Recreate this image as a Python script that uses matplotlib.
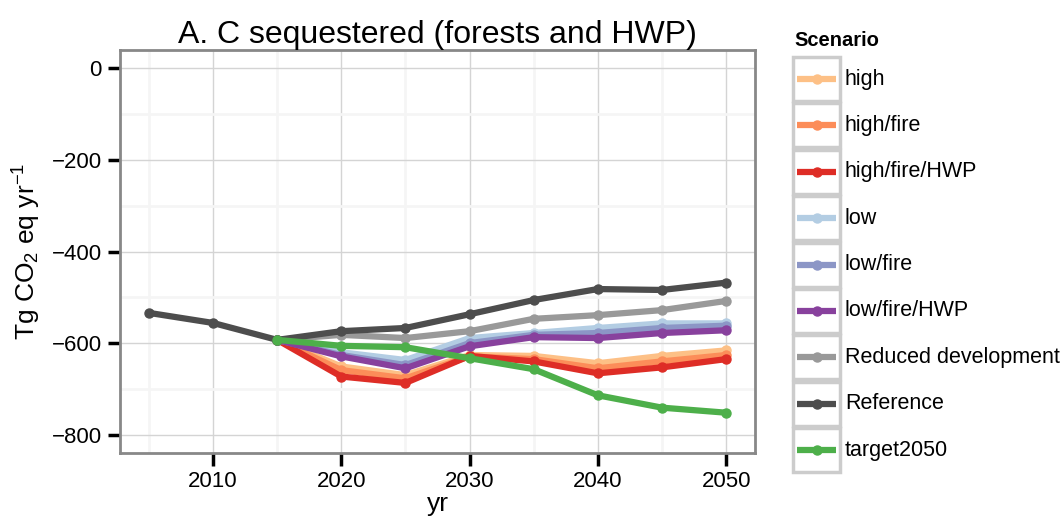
import matplotlib
matplotlib.use("Agg")
import matplotlib.pyplot as plt
from matplotlib.patches import Rectangle
from matplotlib.lines import Line2D
from matplotlib.ticker import MultipleLocator

plt.rcParams['font.family'] = ['Liberation Sans', 'DejaVu Sans']
plt.rcParams['mathtext.default'] = 'regular'

# data
years_ref = [2005, 2010, 2015, 2020, 2025, 2030, 2035, 2040, 2045, 2050]
years = [2015, 2020, 2025, 2030, 2035, 2040, 2045, 2050]

scenarios = ["high", "high/fire", "high/fire/HWP", "low", "low/fire", "low/fire/HWP",
             "Reduced development", "Reference", "target2050"]
colors = ["#FDC086", "#FC8D59", "#DE2D26", "#B3CDE3", "#8C96C6", "#88419D",
          "#999999", "#4D4D4D", "#4DAF4A"]

high = [-593, -651, -670, -626, -628, -644, -628, -616]
high_fire = [-593, -659, -677, -629, -635, -655, -640, -626]
high_fire_hwp = [-593, -673, -687, -628, -640, -666, -653, -635]
low = [-593, -620, -637, -589, -578, -567, -557, -557]
low_fire = [-593, -626, -648, -600, -582, -578, -567, -562]
low_fire_hwp = [-593, -629, -655, -607, -587, -589, -578, -572]
reduced_dev = [-593, -582, -589, -574, -547, -539, -528, -508]
reference = [-534, -556, -593, -574, -567, -537, -506, -482, -484, -468]
target2050 = [-593, -606, -609, -633, -657, -714, -741, -752]

series = [high, high_fire, high_fire_hwp, low, low_fire, low_fire_hwp,
          reduced_dev, reference, target2050]

fig = plt.figure(figsize=(10.6, 5.2), dpi=100)
ax = fig.add_axes([120/1060, 1-453/520, 635/1060, 403/520])

for name, col, vals in zip(scenarios, colors, series):
    xs = years_ref if name == "Reference" else years
    ax.plot(xs, vals, color=col, lw=4.5, marker='o', ms=6.5, solid_capstyle='butt',
            zorder=3)

ax.set_xlim(2002.75, 2052.25)
ax.set_ylim(-840, 40)
ax.xaxis.set_major_locator(MultipleLocator(10))
ax.xaxis.set_minor_locator(MultipleLocator(5))
ax.yaxis.set_major_locator(MultipleLocator(200))
ax.yaxis.set_minor_locator(MultipleLocator(100))
ax.set_xticks([2010, 2020, 2030, 2040, 2050])
ax.grid(which='major', color='#d4d4d4', lw=1.0, zorder=0)
ax.grid(which='minor', color='#f5f5f5', lw=2.0, zorder=0)
ax.tick_params(which='major', direction='out', length=9, width=2.5, color='black',
               labelsize=16, pad=4)
ax.tick_params(which='minor', length=0)
ax.set_yticklabels([f"\u2212{abs(int(v))}" if v < 0 else f"{int(v)}"
                    for v in ax.get_yticks()])
for s in ax.spines.values():
    s.set_color('#888888')
    s.set_linewidth(2)

ax.set_title("A. C sequestered (forests and HWP)", fontsize=23, pad=5)
ax.set_xlabel("yr", fontsize=19, labelpad=0)
ax.set_ylabel(r"Tg CO$_2$ eq yr$^{-1}$", fontsize=19, labelpad=6)

# ggplot-style legend drawn by hand
W, H = 1060, 520
fig.text(794/W, 1-40/H, "Scenario", fontsize=14.5, fontweight='bold', va='center')
for i, (name, col) in enumerate(zip(scenarios, colors)):
    top = 57 + i*46.4
    fig.patches.append(Rectangle((793/W, 1-(top+44)/H), 47/W, 44/H,
                                 transform=fig.transFigure, facecolor='white',
                                 edgecolor='#cccccc', lw=2.5))
    yc = 1-(top+22)/H
    fig.lines.append(Line2D([797/W, 836/W], [yc, yc], transform=fig.transFigure,
                            color=col, lw=4.5, solid_capstyle='butt'))
    fig.lines.append(Line2D([816.5/W], [yc], transform=fig.transFigure, color=col,
                            marker='o', ms=6.5))
    fig.text(845/W, yc, name, fontsize=15.5, va='center')

fig.savefig("out.png", dpi=100)
